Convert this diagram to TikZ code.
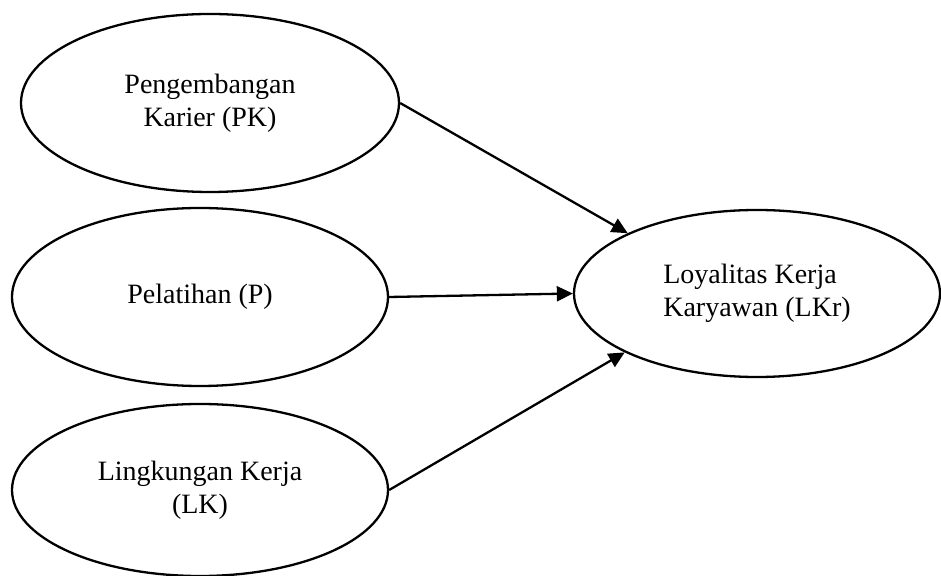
\documentclass[tikz,border=0pt]{standalone}
\usepackage{fontspec}
\setmainfont{Liberation Serif}
\usetikzlibrary{shapes.geometric,arrows.meta}
\tikzset{
  var/.style={ellipse,draw=black,line width=1.15pt,inner sep=0pt,align=center,
    font=\fontsize{14}{16.3}\selectfont},
  conn/.style={line width=1.15pt,-{Triangle[length=8pt,width=7.5pt]}}
}
\begin{document}
\begin{tikzpicture}[x=0.5pt,y=-0.5pt]
\useasboundingbox (0,0) rectangle (941,576);
\node[var,minimum width=189pt,minimum height=89pt] (pk) at (210,103) {Pengembangan\\Karier (PK)};
\node[var,minimum width=188pt,minimum height=89pt] (p) at (200,297) {Pelatihan (P)};
\node[var,minimum width=188pt,minimum height=86pt] (lk) at (200,490) {Lingkungan Kerja\\(LK)};
\node[var,minimum width=183pt,minimum height=83.5pt,align=left] (lkr) at (757,293.5) {Loyalitas Kerja\\Karyawan (LKr)};
\draw[conn] (pk.east) -- (lkr.155.2);
\draw[conn] (p.east) -- (lkr.west);
\draw[conn] (lk.east) -- (lkr.204.8);
\end{tikzpicture}
\end{document}
